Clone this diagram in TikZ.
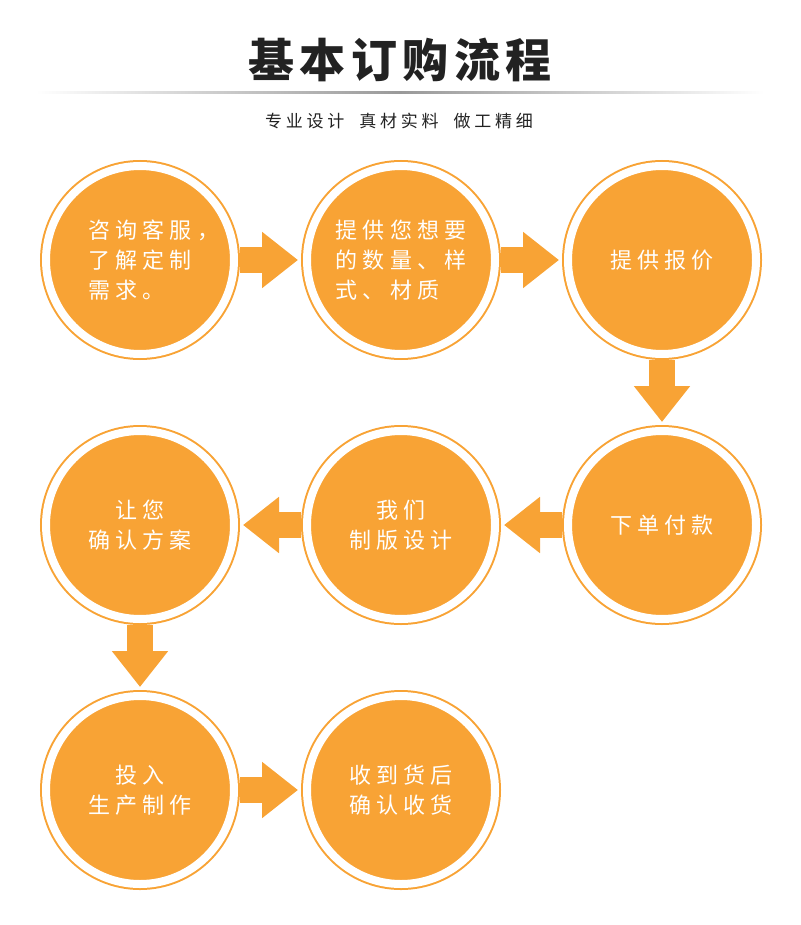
\documentclass[tikz,border=0pt]{standalone}
\usepackage{fontspec}
\usetikzlibrary{arrows.meta}
\newfontfamily\titlefont[LetterSpace=12]{Noto Sans CJK SC}
\newfontfamily\subfont[LetterSpace=22]{Noto Sans CJK SC}
\newfontfamily\stepfont[LetterSpace=24]{Noto Sans CJK SC}
\definecolor{floworange}{RGB}{248,163,53}
\definecolor{titlegray}{RGB}{34,34,34}
\begin{document}
\begin{tikzpicture}[x=1pt,y=-1pt,
  stepdisc/.style={circle,minimum size=188pt,inner sep=0pt,outer sep=6pt,
    fill=floworange,draw=floworange,double=white,line width=2pt,double distance=8pt,
    text=white,font=\stepfont\fontsize{22}{30}\selectfont,align=center},
  flow/.style={draw=floworange,line width=26pt,-{Triangle[width=54pt,length=36pt]},shorten >=3pt}]
\useasboundingbox (0,0) rectangle (800,925);
% title
\node[text=titlegray,font=\titlefont\bfseries\fontsize{46}{50}\selectfont] (title) at (400,60) {基本订购流程};
\shade[left color=white,right color=white,middle color=black!40] (36,92) rectangle (764,94);
\node[text=titlegray,font=\subfont\fontsize{17}{19}\selectfont] (slogan) at (399,121) {专业设计\hspace{15pt}真材实料\hspace{15pt}做工精细};
% steps
\node[stepdisc,text width=104pt,align=left] (ask) at (140,260) {咨询客服，\\了解定制\\需求。};
\node[stepdisc,align=left] (spec) at (401,260) {提供您想要\\的数量、样\\式、材质};
\node[stepdisc] (quote) at (662,260) {提供报价};
\node[stepdisc] (pay) at (662,525) {下单付款};
\node[stepdisc] (design) at (401,525) {我们\\制版设计};
\node[stepdisc] (confirm) at (140,525) {让您\\确认方案};
\node[stepdisc] (make) at (140,790) {投入\\生产制作};
\node[stepdisc] (receive) at (401,790) {收到货后\\确认收货};
% arrows
\draw[flow] (ask) -- (spec);
\draw[flow] (spec) -- (quote);
\draw[flow] (quote) -- (pay);
\draw[flow] (pay) -- (design);
\draw[flow] (design) -- (confirm);
\draw[flow] (confirm) -- (make);
\draw[flow] (make) -- (receive);
\end{tikzpicture}
\end{document}
